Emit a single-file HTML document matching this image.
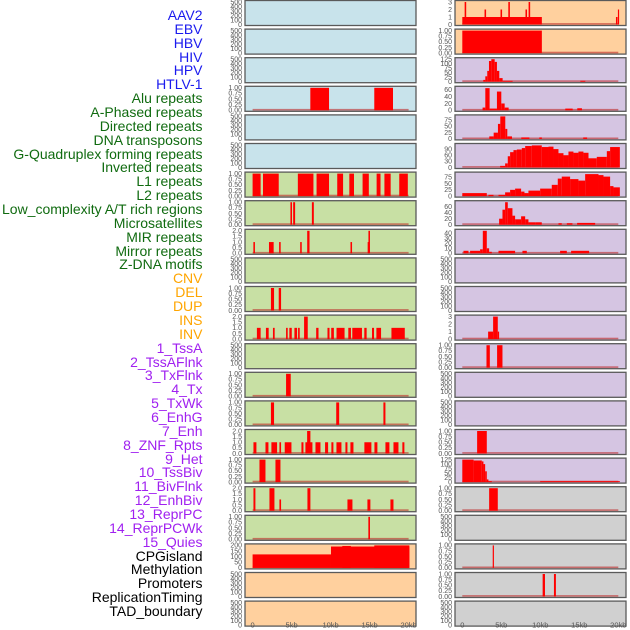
<!DOCTYPE html>
<html><head><meta charset="utf-8"><style>
body{margin:0;background:#fff;width:630px;height:630px;overflow:hidden;font-family:"Liberation Sans",sans-serif}
.lab{position:absolute;right:427.5px;font-size:14px;line-height:14px;white-space:nowrap}
</style></head><body>
<div id="labels"></div>
<svg id="chart" width="630" height="630" style="position:absolute;left:0;top:0"></svg>
<script>
const trackNames=["AAV2","EBV","HBV","HIV","HPV","HTLV-1","Alu repeats","A-Phased repeats","Directed repeats","DNA transposons","G-Quadruplex forming repeats","Inverted repeats","L1 repeats","L2 repeats","Low_complexity A/T rich regions","Microsatellites","MIR repeats","Mirror repeats","Z-DNA motifs","CNV","DEL","DUP","INS","INV","1_TssA","2_TssAFlnk","3_TxFlnk","4_Tx","5_TxWk","6_EnhG","7_Enh","8_ZNF_Rpts","9_Het","10_TssBiv","11_BivFlnk","12_EnhBiv","13_ReprPC","14_ReprPCWk","15_Quies","CPGisland","Methylation","Promoters","ReplicationTiming","TAD_boundary"];
const trackGroups=[0,0,0,0,0,0,1,1,1,1,1,1,1,1,1,1,1,1,1,2,2,2,2,2,3,3,3,3,3,3,3,3,3,3,3,3,3,3,3,4,4,4,4,4];
const xTickLabels=["0","5kb","10kb","15kb","20kb"];
const xTickValues=[0,5,10,15,20];
const T_E=["0","100","200","300","400","500"], T_U=["0.00","0.25","0.50","0.75","1.00"], T_2=["0.0","0.5","1.0","1.5","2.0"];
const leftBg=["b","b","b","b","b","b","g","g","g","g","g","g","g","g","g","g","g","g","g","p","p","p"];
const leftTicks=[T_E,T_E,T_E,T_U,T_E,T_E,T_U,T_U,T_2,T_E,T_U,T_2,T_E,T_U,T_U,T_2,T_U,T_2,T_U,["0","50","100","150","200"],T_E,T_E];
const leftMax=[500,500,500,1,500,500,1,1,2,500,1,2,500,1,1,2,1,2,1,200,500,500];
const leftBars=[
 [],[],[],
 [[7.4,9.8,1],[15.6,18.0,1]],
 [],[],
 [[0,1.03,1],[1.33,3.35,1],[5.8,7.8,1],[8.2,9.8,1],[10.85,11.6,1],[12.4,13.0,1],[14.1,14.9,1],[15.9,16.4,1],[16.9,17.7,1],[18.8,19.9,1]],
 [[4.85,5.05,1],[5.2,5.45,1],[7.6,7.85,1]],
 [[0.1,0.3,1],[2.1,2.7,1],[3.4,3.6,1],[6.1,6.3,1],[7.0,7.3,2],[12.55,12.75,1],[14.75,14.95,1],[14.85,15.05,2]],
 [],
 [[2.35,2.75,1],[3.35,3.65,1]],
 [[0.55,1.03,1],[1.71,2.06,1],[2.61,2.83,1],[4.29,4.5,1],[4.71,5.02,1],[5.36,5.7,1],[5.83,6.04,1],[6.6,7.07,2],[8.15,8.45,1],[9.6,9.86,1],[10.08,10.42,1],[10.76,11.79,1],[12.27,12.61,1],[12.78,14.02,1],[14.32,14.62,1],[15.31,15.57,1],[15.87,16.47,1],[17.8,19.51,1]],
 [],
 [[4.29,4.89,1]],
 [[2.35,2.75,1],[10.72,11.1,1],[16.77,17.03,1]],
 [[0.11,0.49,1],[1.65,2.03,1],[2.41,3.14,1],[3.44,3.65,1],[4.12,4.98,1],[6.26,6.52,1],[6.77,7.67,1],[6.99,7.41,2],[8.06,8.7,1],[9.29,9.68,1],[10.1,10.36,1],[10.75,11.39,1],[11.9,12.16,1],[12.54,12.93,1],[14.33,15.23,1],[15.62,16.0,1],[17.03,17.54,1],[18.06,18.7,1],[19.2,19.46,1]],
 [[0.88,1.65,1],[2.93,3.57,1]],
 [[0.11,0.36,2],[2.16,2.8,2],[3.44,3.65,1],[7.03,7.41,2],[12.16,12.8,1],[14.72,15.1,1],[17.67,18.06,1]],
 [[14.84,15.05,1]],
 [[0,10.05,120],[10.05,20.1,190],[11.5,12.6,195],[15.6,20.1,200]],
 [],[]
];
const rightBg=["p","p","v","v","v","v","v","v","v","v","v","v","v","v","v","v","v","y","y","y","y","y"];
const rightTicks=[["0","1","2","3"],T_U,["0","25","50","75","100","125"],["0","20","40","60"],["0","25","50","75"],["0","30","60","90"],["0","25","50","75"],["0","20","40","60"],["0","10","20","30","40"],T_E,T_E,["0","1","2","3"],T_U,T_E,T_E,T_U,["0","25","50","75","100","125"],T_U,T_E,T_U,T_U,T_E];
const rightMax=[3,1,125,66,90,110,90,75,45,500,500,3,1,500,500,1,125,1,500,1,1,500];
const rightBars=[
 [[0,10.2,1],[0.3,0.5,3],[2.85,3.05,2],[4.9,5.1,2],[5.9,6.1,3],[8.1,8.3,2],[8.5,8.7,3],[19.7,19.9,1],[19.95,20.1,2]],
 [[0,10.2,1]],
 [[2.69,2.95,10],[2.95,3.2,30],[3.2,3.42,60],[3.42,3.72,115],[3.72,4.15,125],[4.15,4.44,110],[4.44,4.74,60],[4.74,5.17,20],[5.17,6.45,5],[15.13,15.77,5]],
 [[2.6,2.95,8],[2.95,3.5,65],[3.5,4.44,5],[4.44,5.0,55],[5.0,5.43,20],[5.43,5.94,8],[13.2,14.15,5],[14.74,15.34,6]],
 [[3.46,4.02,10],[4.02,4.57,25],[4.57,4.87,60],[4.87,5.51,90],[5.51,5.77,40],[5.77,6.37,10],[7.56,8.6,6],[9.87,10.2,6],[15.5,16.0,6]],
 [[4.85,5.49,8],[5.49,5.83,20],[5.83,6.13,55],[6.13,6.56,75],[6.56,6.99,85],[6.99,7.63,88],[7.63,8.06,95],[8.06,8.91,105],[8.91,10.19,108],[10.19,11.05,100],[11.05,11.69,102],[11.69,12.33,90],[12.33,12.97,70],[12.97,13.61,60],[13.61,14.25,78],[14.25,14.89,72],[14.89,15.53,78],[15.53,16.18,72],[16.18,17.24,45],[17.24,18.53,52],[18.53,18.95,80],[18.95,20.2,100]],
 [[0,3.14,12],[3.35,4.0,5],[4.64,5.49,5],[5.49,6.13,15],[6.13,6.77,25],[6.77,7.54,30],[7.54,7.97,18],[7.97,8.48,12],[8.48,9.98,22],[9.98,11.47,30],[11.47,12.24,45],[12.24,12.75,70],[12.75,13.82,78],[13.82,14.89,68],[14.89,15.75,62],[15.75,17.46,88],[17.46,18.1,84],[18.1,18.95,78],[18.95,19.38,40],[19.38,20.2,35]],
 [[4.72,5.15,20],[5.15,5.49,50],[5.49,5.83,75],[5.83,6.43,55],[6.43,6.77,30],[6.77,7.54,18],[7.54,8.06,28],[8.06,8.48,18],[8.48,9.34,8],[9.34,10.19,8],[12.33,12.75,5],[13.4,14.12,5],[14.72,17.03,6]],
 [[0.15,0.79,5],[1.0,2.28,5],[2.28,2.63,8],[2.63,3.14,45],[3.14,3.44,10],[3.44,3.78,3],[4.64,6.77,5],[7.71,8.27,5],[12.54,13.4,5],[13.95,16.26,5]],
 [],[],
 [[3.31,3.95,1],[3.95,4.55,3],[4.55,4.72,1]],
 [[3.1,3.53,1],[4.46,5.15,1]],
 [],[],
 [[1.9,3.14,1]],
 [[0,1.45,125],[1.45,2.5,120],[2.5,2.71,115],[2.71,2.93,100],[2.93,3.14,60],[3.14,3.35,15],[3.35,3.78,5],[9.98,20.2,5]],
 [[3.44,4.55,1]],
 [],
 [[3.9,4.05,1]],
 [[10.3,10.6,1],[11.75,12.0,1]],
 []
];
const bgColors={b:"#c8e3eb",g:"#c8e0a4",p:"#ffd09e",v:"#d5c5e2",y:"#d0d0d0"};
const groupColors=["#1a1aee","#106b10","#ffa500","#a020f0","#000000"];

const labDiv=document.getElementById('labels');
trackNames.forEach((n,i)=>{
  const d=document.createElement('div');
  d.className='lab';
  d.style.top=(8+i*13.86)+'px';
  d.style.color=groupColors[trackGroups[i]];
  d.textContent=n;
  
  
  labDiv.appendChild(d);
});

const NS="http://www.w3.org/2000/svg";
const svg=document.getElementById('chart');
function el(t,a){const e=document.createElementNS(NS,t);for(const k in a)e.setAttribute(k,a[k]);return e;}
const PITCH=28.6, PH=25;
function drawCol(px,x0,bgs,ticks,maxs,bars,col){
  const xs=kb=>x0+kb*7.8;
  for(let r=0;r<22;r++){
    const top=r*PITCH+0.5;
    const g=el('g',{});
    
    
    svg.appendChild(g);
    g.appendChild(el('rect',{x:px,y:top,width:171,height:PH,fill:bgColors[bgs[r]],stroke:'#5a5a5a','stroke-width':1.3}));
    const mx=maxs[r];
    const ys=v=>top+24-(v/mx)*22.5;
    ticks[r].forEach(t=>{
      const v=parseFloat(t);
      const tx=el('text',{x:px-3,y:ys(v)+2.3,'font-size':7,fill:'#555','text-anchor':'end','font-family':'Liberation Sans, sans-serif'});
      tx.textContent=t;
      
      
      g.appendChild(tx);
    });
    const bs=bars[r];
    if(bs.length){
      const base=el('rect',{x:xs(0),y:top+22.6,width:xs(20)-xs(0),height:1.6,fill:'rgba(190,40,40,0.6)'});
      
      
      g.appendChild(base);
    }
    bs.forEach(b=>{
      const y1=Math.max(ys(b[2]),top+0.7);
      const br=el('rect',{x:xs(b[0]),y:y1,width:Math.max(xs(b[1])-xs(b[0]),1.2),height:top+24-y1,fill:'#ff0000'});
      
      
      g.appendChild(br);
    });
  }
  xTickValues.forEach((v,i)=>{
    const tx=el('text',{x:xs(v),y:627.5,'font-size':7.5,fill:'#555','text-anchor':'middle','font-family':'Liberation Sans, sans-serif'});
    tx.textContent=xTickLabels[i];
    
    
    svg.appendChild(tx);
  });
}
drawCol(245,252.6,leftBg,leftTicks,leftMax,leftBars,'left');
drawCol(455,462.3,rightBg,rightTicks,rightMax,rightBars,'right');
</script>
</body></html>
